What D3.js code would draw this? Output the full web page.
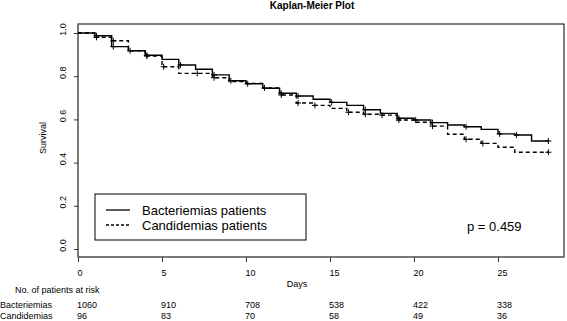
<!DOCTYPE html>
<html>
<head>
<meta charset="utf-8">
<script src="https://cdn.jsdelivr.net/npm/d3@7"></script>
<style>
  body { margin: 0; background: #fff; }
  text { font-family: "Liberation Sans", Arial, sans-serif; fill: #000; }
</style>
</head>
<body>
<div id="chart"></div>
<script>
// survival at start of each one-day interval
var days = [0,1,2,3,4,5,6,7,8,9,10,11,12,13,14,15,16,17,18,19,20,21,22,23,24,25,26,27,28];
var bactSurv = [1.0,0.987,0.937,0.918,0.897,0.878,0.852,0.832,0.806,0.779,0.765,0.744,0.721,0.708,0.693,0.679,0.665,0.645,0.628,0.605,0.597,0.585,0.574,0.566,0.554,0.533,0.528,0.500,0.500];
var candSurv = [1.0,0.980,0.964,0.918,0.893,0.844,0.813,0.813,0.793,0.775,0.767,0.746,0.713,0.676,0.665,0.651,0.633,0.624,0.620,0.597,0.587,0.569,0.531,0.508,0.489,0.471,0.448,0.448,0.448];
// censoring marks (days)
var bactCensor = [1.1,2.1,3.1,4.1,6.1,8.1,9.1,10.1,12.1,13.1,15.1,17.1,19.1,20.1,21.1,23.1,25.1,26.1,28];
var candCensor = [1.1,2.1,4.1,5.1,7.1,8.1,11.1,12.1,13.1,14.1,16.1,17.1,18.1,19.1,21.1,23.1,24.1,28];

var yTicks = [0, 0.2, 0.4, 0.6, 0.8, 1.0];
var xTicks = [0, 5, 10, 15, 20, 25];
var bactRisk = [1060, 910, 708, 538, 422, 338];
var candRisk = [96, 83, 70, 58, 49, 36];

var W = 567, H = 321;
var mLeft = 78, mRight = 564, mTop = 24, mBottom = 257;

var svg = d3.select("#chart").append("svg")
    .attr("width", W)
    .attr("height", H);

var x = d3.scaleLinear().domain([0, 28.93]).range([mLeft, mRight]);
var y = d3.scaleLinear().domain([0, 1]).range([249, 33]);

// title
svg.append("text")
    .attr("x", 312).attr("y", 9)
    .attr("text-anchor", "middle")
    .style("font-size", "10px")
    .style("font-weight", "bold")
    .text("Kaplan-Meier Plot");

// box (top & right)
svg.append("rect")
    .attr("x", mLeft).attr("y", mTop)
    .attr("width", mRight - mLeft).attr("height", mBottom - mTop)
    .attr("fill", "none").attr("stroke", "#000").attr("stroke-width", 1);

// y axis
var yAxis = svg.append("g")
    .attr("transform", "translate(" + mLeft + ",0)")
    .call(d3.axisLeft(y).tickValues(yTicks).tickSize(4).tickFormat(d3.format(".1f")));
yAxis.select(".domain").attr("d", "M0," + mTop + "V" + mBottom).attr("stroke", "#777").attr("stroke-width", 1.5);
yAxis.selectAll(".tick line").attr("stroke", "#333");
yAxis.selectAll(".tick text")
    .attr("x", 0).attr("dy", null)
    .attr("text-anchor", "middle")
    .attr("transform", "translate(-12,-4) rotate(-90)")
    .style("font-size", "9px")
    .style("font-family", "Liberation Sans, Arial, sans-serif");

// x axis
var xAxis = svg.append("g")
    .attr("transform", "translate(0," + mBottom + ")")
    .call(d3.axisBottom(x).tickValues(xTicks).tickSize(5));
xAxis.select(".domain").attr("d", "M" + mLeft + ",0H" + mRight).attr("stroke", "#777").attr("stroke-width", 1.5);
xAxis.selectAll(".tick line").attr("stroke", "#333");
xAxis.selectAll(".tick text")
    .attr("text-anchor", "start")
    .attr("x", -1).attr("y", 19).attr("dy", null)
    .style("font-size", "9px")
    .style("font-family", "Liberation Sans, Arial, sans-serif");

// axis labels
svg.append("text")
    .attr("transform", "translate(46,138) rotate(-90)")
    .attr("text-anchor", "middle")
    .style("font-size", "9px")
    .text("Survival");
svg.append("text")
    .attr("x", 297).attr("y", 287)
    .attr("text-anchor", "middle")
    .style("font-size", "9px")
    .text("Days");

// step curves
function stepPath(surv) {
    var pts = days.map(function (d, i) { return [d, surv[i]]; });
    return d3.line()
        .x(function (p) { return x(p[0]); })
        .y(function (p) { return y(p[1]); })
        .curve(d3.curveStepAfter)(pts);
}

svg.append("path")
    .attr("d", stepPath(candSurv))
    .attr("fill", "none").attr("stroke", "#000")
    .attr("stroke-width", 1.4)
    .attr("stroke-dasharray", "4,3");

svg.append("path")
    .attr("d", stepPath(bactSurv))
    .attr("fill", "none").attr("stroke", "#000")
    .attr("stroke-width", 1.4);

function survAt(surv, t) {
    var i = Math.min(Math.floor(t), days.length - 1);
    return surv[i];
}

function drawCensor(list, surv) {
    svg.append("g").selectAll("path")
        .data(list)
        .enter()
        .append("path")
        .attr("d", function (t) {
            var cx = x(t), cy = y(survAt(surv, t));
            return "M" + (cx - 3) + "," + cy + "H" + (cx + 3) + "M" + cx + "," + (cy - 3) + "V" + (cy + 3);
        })
        .attr("stroke", "#000").attr("stroke-width", 1);
}
drawCensor(bactCensor, bactSurv);
drawCensor(candCensor, candSurv);

// legend
var lg = svg.append("g");
lg.append("rect")
    .attr("x", 95).attr("y", 194)
    .attr("width", 211).attr("height", 46)
    .attr("fill", "#fff").attr("stroke", "#000");
lg.append("line")
    .attr("x1", 106).attr("x2", 130).attr("y1", 210).attr("y2", 210)
    .attr("stroke", "#000").attr("stroke-width", 1.3);
lg.append("line")
    .attr("x1", 106).attr("x2", 130).attr("y1", 225).attr("y2", 225)
    .attr("stroke", "#000").attr("stroke-width", 1.3)
    .attr("stroke-dasharray", "3,2");
lg.append("text").attr("x", 142).attr("y", 215)
    .style("font-size", "13px").text("Bacteriemias patients");
lg.append("text").attr("x", 142).attr("y", 230)
    .style("font-size", "13px").text("Candidemias patients");

svg.append("text")
    .attr("x", 467).attr("y", 231)
    .style("font-size", "13px")
    .text("p = 0.459");

// risk table
svg.append("text").attr("x", 15).attr("y", 293)
    .style("font-size", "9px").text("No. of patients at risk");
svg.append("text").attr("x", 0).attr("y", 308)
    .style("font-size", "9px").text("Bacteriemias");
svg.append("text").attr("x", 0).attr("y", 319)
    .style("font-size", "9px").text("Candidemias");

svg.append("g").selectAll("text")
    .data(bactRisk)
    .enter()
    .append("text")
    .attr("x", function (d, i) { return x(xTicks[i]) - 1; })
    .attr("y", 308)
    .style("font-size", "9px")
    .text(function (d) { return d; });

svg.append("g").selectAll("text")
    .data(candRisk)
    .enter()
    .append("text")
    .attr("x", function (d, i) { return x(xTicks[i]) - 1; })
    .attr("y", 319)
    .style("font-size", "9px")
    .text(function (d) { return d; });
</script>
</body>
</html>
